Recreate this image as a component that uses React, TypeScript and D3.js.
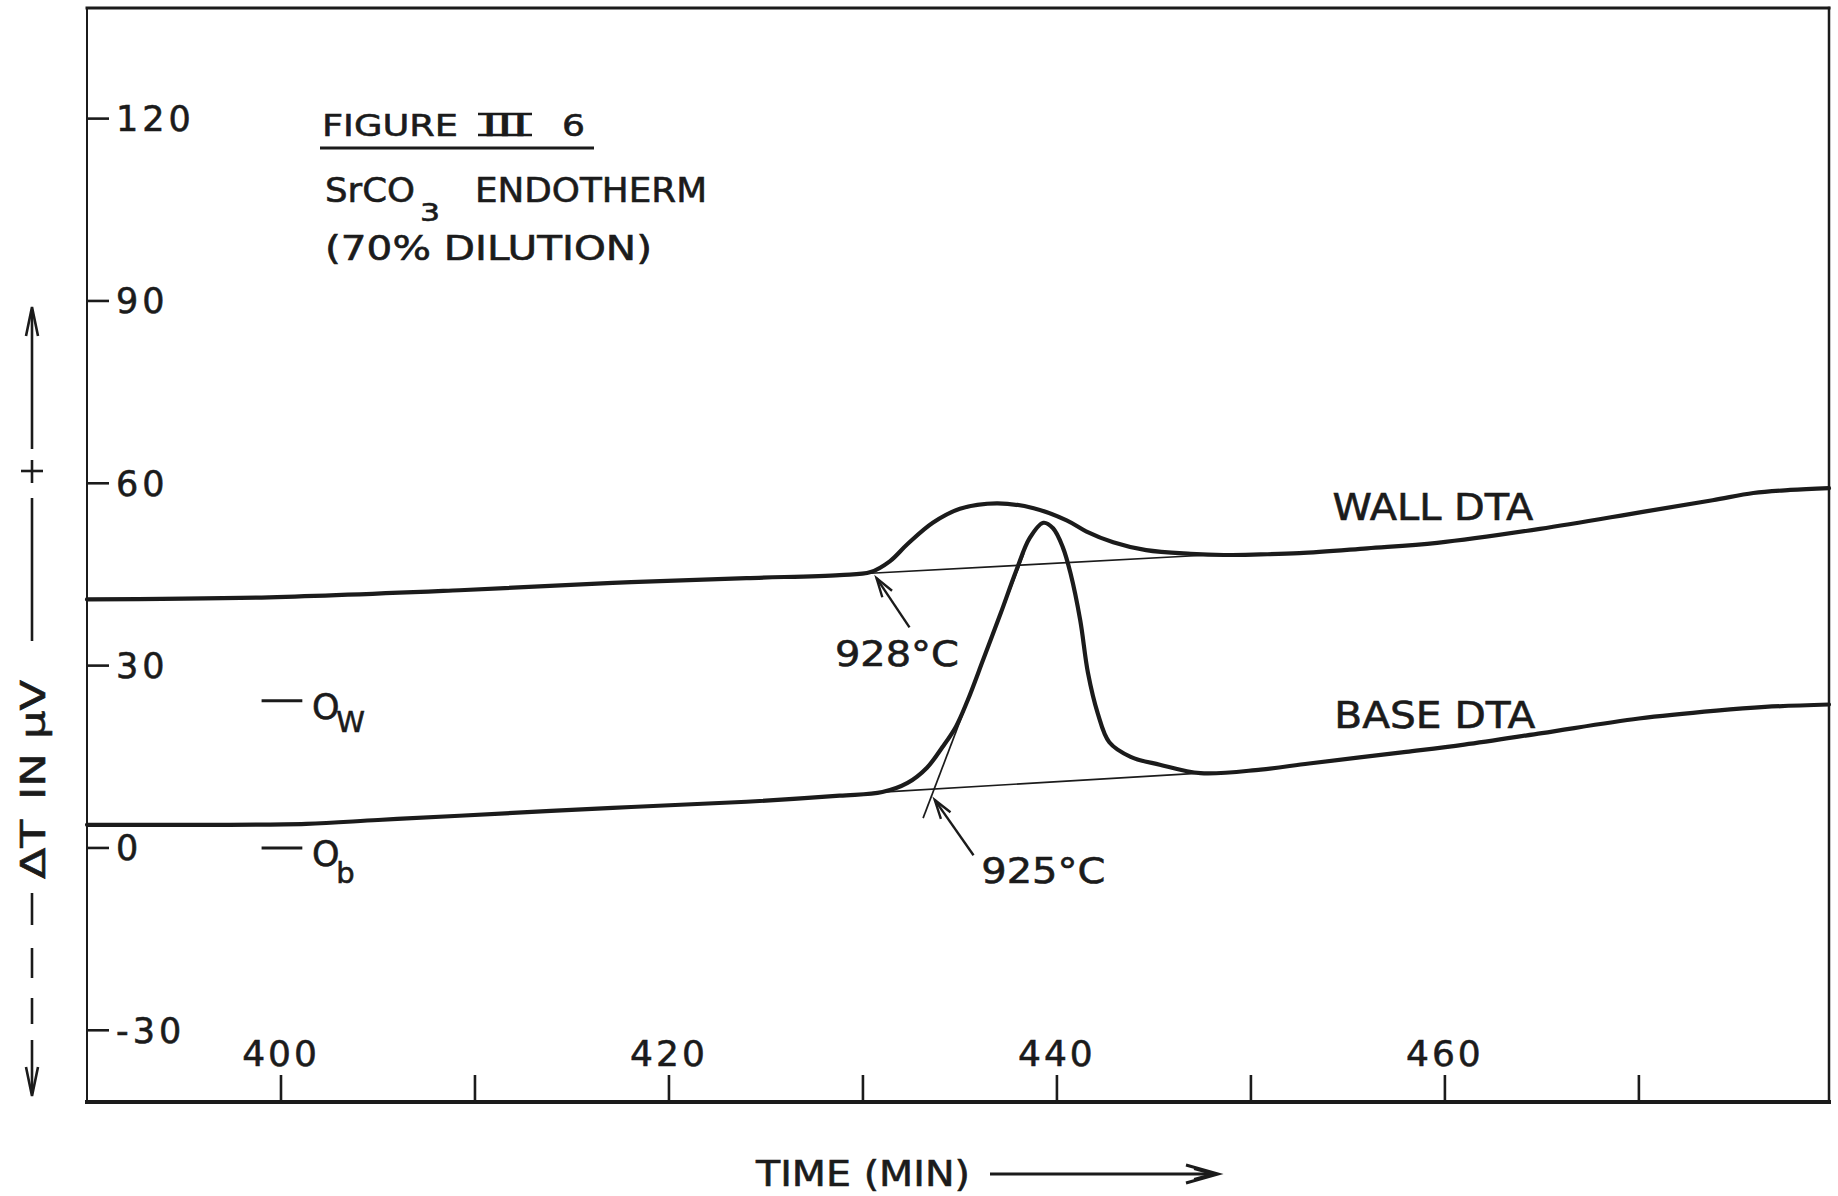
import React from "react";
import * as d3 from "d3";

const W = 1838;
const H = 1196;

// Axes: time in minutes, differential temperature in microvolts
const timeDomain: [number, number] = [390, 479.8];
const deltaDomain: [number, number] = [-41.8, 138.2];
const timeTicks = [400, 410, 420, 430, 440, 450, 460, 470];
const timeLabels = [400, 420, 440, 460];
const deltaTicks = [120, 90, 60, 30, 0, -30];

// Wall thermocouple DTA trace [time (min), ΔT (μV)]
const wallDTA: [number, number][] = [
  [390.0, 40.9], [399.0, 41.2], [409.2, 42.4], [417.1, 43.6], [424.0, 44.4],
  [428.8, 44.9], [430.4, 45.4], [431.4, 47.2], [432.3, 50.0], [433.6, 53.5],
  [435.0, 55.8], [436.9, 56.7], [438.8, 55.9], [440.5, 53.9], [441.5, 52.1],
  [442.9, 50.3], [444.6, 49.0], [446.9, 48.4], [448.6, 48.2], [450.5, 48.3],
  [452.5, 48.5], [456.0, 49.3], [459.6, 50.2], [464.9, 52.5], [470.2, 55.3],
  [473.8, 57.2], [475.9, 58.4], [477.8, 58.9], [479.8, 59.2],
];

// Base thermocouple DTA trace [time (min), ΔT (μV)]
const baseDTA: [number, number][] = [
  [390.0, 3.8], [396.0, 3.8], [401.3, 3.95], [405.0, 4.6], [409.2, 5.3],
  [417.1, 6.6], [424.0, 7.6], [428.8, 8.6], [431.0, 9.2], [432.3, 10.7],
  [433.3, 13.2], [434.1, 16.6], [434.8, 20.0], [435.4, 24.3], [436.2, 31.0],
  [437.1, 38.6], [437.9, 45.6], [438.6, 51.0], [439.3, 53.5], [439.8, 52.6],
  [440.3, 49.5], [440.7, 45.2], [441.2, 37.5], [441.6, 28.8], [442.1, 22.2],
  [442.7, 17.4], [443.8, 15.0], [445.3, 13.7], [447.4, 12.3], [450.5, 12.9],
  [453.0, 13.9], [458.0, 15.8], [461.0, 17.0], [465.0, 18.9], [470.0, 21.3],
  [474.0, 22.6], [476.5, 23.2], [479.8, 23.6],
];

// Construction lines: extrapolated baselines and leading-edge tangent
const wallBaseline: [number, number][] = [[430.4, 45.2], [447.8, 48.2]];
const baseBaseline: [number, number][] = [[431.0, 9.2], [447.4, 12.3]];
const baseTangent: [number, number][] = [[433.1, 4.9], [438.3, 48.5]];

// Onset temperature callouts
const onsetText = ["928°C", "925°C"];
const onsetTail: [number, number][] = [[432.4, 36.3], [435.7, -1.2]];
const onsetTip: [number, number][] = [[430.7, 44.4], [433.7, 7.9]];
const onsetAnchor: [number, number][] = [[431.75, 29.9], [439.3, -5.8]];

// Curve names and where they are lettered
const traceNames = ["WALL DTA", "BASE DTA"];
const traceNameAnchor: [number, number][] = [[454.2, 53.9], [454.3, 19.7]];

// Zero references of the two traces
const zeroSubs = ["W", "b"];
const zeroLevels = [24.2, 0];

const INK = "#1b1b1b";
const FONT = "'DejaVu Sans', 'Liberation Sans', sans-serif";

const x = d3.scaleLinear().domain(timeDomain).range([87, 1829]);
const y = d3.scaleLinear().domain(deltaDomain).range([1102, 8]);

const trace = d3
  .line<[number, number]>()
  .x((d) => x(d[0]))
  .y((d) => y(d[1]))
  .curve(d3.curveCatmullRom.alpha(0.5));

const straight = d3
  .line<[number, number]>()
  .x((d) => x(d[0]))
  .y((d) => y(d[1]));

function arrowHead(tip: [number, number], tail: [number, number], len: number, spread: number) {
  const dx = tail[0] - tip[0];
  const dy = tail[1] - tip[1];
  const n = Math.hypot(dx, dy);
  const ux = dx / n;
  const uy = dy / n;
  const a = (spread * Math.PI) / 180;
  const rot = (s: number) => [
    tip[0] + len * (ux * Math.cos(s) - uy * Math.sin(s)),
    tip[1] + len * (ux * Math.sin(s) + uy * Math.cos(s)),
  ];
  const p1 = rot(a);
  const p2 = rot(-a);
  return `M${p1[0]},${p1[1]}L${tip[0]},${tip[1]}L${p2[0]},${p2[1]}`;
}

// lettering is drawn slightly heavier than the font's book weight
const ink = { fill: INK, stroke: INK, strokeWidth: 0.6 };

export default function App() {
  const [x0, x1] = x.range();
  const [yb, yt] = y.range();

  return (
    <svg
      width={W}
      height={H}
      viewBox={`0 0 ${W} ${H}`}
      style={{ position: "absolute", left: 0, top: 0, display: "block", background: "#ffffff" }}
      fontFamily={FONT}
      fill={INK}
    >
      <rect x={0} y={0} width={W} height={H} fill="#ffffff" />

      {/* frame */}
      <g stroke={INK} strokeLinecap="square">
        <line x1={x0} y1={yt} x2={x1} y2={yt} strokeWidth={3} />
        <line x1={x1} y1={yt} x2={x1} y2={yb} strokeWidth={2.5} />
        <line x1={x0} y1={yb} x2={x1} y2={yb} strokeWidth={4} />
        <line x1={x0} y1={yt} x2={x0} y2={yb} strokeWidth={2} />
      </g>

      {/* ΔT ticks and labels */}
      <g>
        {deltaTicks.map((v) => (
          <g key={v}>
            <line x1={x0} x2={x0 + 22} y1={y(v)} y2={y(v)} stroke={INK} strokeWidth={2.6} />
            <text x={x0 + 29} y={y(v) + 12.5} fontSize={35} letterSpacing={4} {...ink}>
              {String(v)}
            </text>
          </g>
        ))}
      </g>

      {/* time ticks and labels */}
      <g>
        {timeTicks.map((t) => (
          <line key={t} x1={x(t)} x2={x(t)} y1={yb} y2={yb - 27} stroke={INK} strokeWidth={2.6} />
        ))}
        {timeLabels.map((t) => (
          <text key={t} x={x(t)} y={1066} fontSize={36} letterSpacing={3} textAnchor="middle" {...ink}>
            {String(t)}
          </text>
        ))}
      </g>

      {/* construction lines */}
      <g fill="none" stroke={INK} strokeWidth={1.7}>
        <path d={straight(wallBaseline) || ""} />
        <path d={straight(baseBaseline) || ""} />
        <path d={straight(baseTangent) || ""} />
      </g>

      {/* traces */}
      <g fill="none" stroke={INK} strokeWidth={4.2} strokeLinejoin="round" strokeLinecap="round">
        <path d={trace(wallDTA) || ""} />
        <path d={trace(baseDTA) || ""} />
      </g>

      {/* onset callouts */}
      {onsetText.map((label, i) => {
        const tip: [number, number] = [x(onsetTip[i][0]), y(onsetTip[i][1])];
        const tail: [number, number] = [x(onsetTail[i][0]), y(onsetTail[i][1])];
        return (
          <g key={label}>
            <line x1={tail[0]} y1={tail[1]} x2={tip[0]} y2={tip[1]} stroke={INK} strokeWidth={2.4} />
            <path d={arrowHead(tip, tail, 20, 17)} fill="none" stroke={INK} strokeWidth={2.4} />
            <text
              x={x(onsetAnchor[i][0])}
              y={y(onsetAnchor[i][1])}
              fontSize={35}
              textAnchor="middle"
              textLength={124}
              lengthAdjust="spacingAndGlyphs"
              {...ink}
            >
              {label}
            </text>
          </g>
        );
      })}

      {/* trace names */}
      {traceNames.map((name, i) => (
        <text
          key={name}
          x={x(traceNameAnchor[i][0])}
          y={y(traceNameAnchor[i][1])}
          fontSize={37}
          textLength={201}
          lengthAdjust="spacingAndGlyphs"
          {...ink}
        >
          {name}
        </text>
      ))}

      {/* zero references */}
      {zeroLevels.map((v, i) => (
        <g key={zeroSubs[i]}>
          <line x1={x(399.0)} x2={x(401.1)} y1={y(v)} y2={y(v)} stroke={INK} strokeWidth={3} />
          <text x={x(401.6)} y={y(v) + 18} fontSize={35} {...ink}>
            O
          </text>
          <text x={x(402.85)} y={y(v) + (zeroSubs[i] === "W" ? 31 : 35)} fontSize={29} {...ink}>
            {zeroSubs[i]}
          </text>
        </g>
      ))}

      {/* figure heading */}
      <g {...ink}>
        <text x={322} y={136} fontSize={31} textLength={136} lengthAdjust="spacingAndGlyphs">
          FIGURE
        </text>
        <text x={482} y={136} fontSize={31} textLength={46} lengthAdjust="spacingAndGlyphs">
          III
        </text>
        <line x1={478} x2={532} y1={114} y2={114} stroke={INK} strokeWidth={2.6} />
        <line x1={478} x2={532} y1={135} y2={135} stroke={INK} strokeWidth={2.6} />
        <text x={562} y={136} fontSize={31} textLength={23} lengthAdjust="spacingAndGlyphs">
          6
        </text>
        <line x1={320} x2={594} y1={148} y2={148} stroke={INK} strokeWidth={3} />

        <text x={325} y={202} fontSize={33} textLength={90} lengthAdjust="spacingAndGlyphs">
          SrCO
        </text>
        <text x={420} y={221} fontSize={25} textLength={20} lengthAdjust="spacingAndGlyphs">
          3
        </text>
        <text x={475} y={202} fontSize={33} textLength={232} lengthAdjust="spacingAndGlyphs">
          ENDOTHERM
        </text>
        <text x={325} y={260} fontSize={33} textLength={327} lengthAdjust="spacingAndGlyphs">
          (70% DILUTION)
        </text>
      </g>

      {/* time axis title */}
      <g>
        <text x={756} y={1186} fontSize={35} textLength={214} lengthAdjust="spacingAndGlyphs" {...ink}>
          TIME (MIN)
        </text>
        <line x1={990} x2={1214} y1={1174} y2={1174} stroke={INK} strokeWidth={3} />
        <path d="M1186,1165L1218,1174L1186,1183" fill="none" stroke={INK} strokeWidth={3} />
        <path d="M1194,1169L1212,1174L1194,1179" fill="none" stroke={INK} strokeWidth={2} />
      </g>

      {/* ΔT axis title */}
      <g stroke={INK} strokeWidth={2.6} fill="none">
        <line x1={32} x2={32} y1={449} y2={310} />
        <path d="M26,336L32,307L38,336" />
        <line x1={21} x2={43} y1={471} y2={471} />
        <line x1={32} x2={32} y1={460} y2={483} />
        <line x1={32} x2={32} y1={498} y2={641} />
        <line x1={32} x2={32} y1={893} y2={925} />
        <line x1={32} x2={32} y1={948} y2={978} />
        <line x1={32} x2={32} y1={998} y2={1024} />
        <line x1={32} x2={32} y1={1040} y2={1093} />
        <path d="M26,1067L32,1096L38,1067" />
      </g>
      <g transform="translate(45,879) rotate(-90)">
        <text x={0} y={0} fontSize={33} textLength={59} lengthAdjust="spacingAndGlyphs" {...ink}>
          ΔT
        </text>
      </g>
      <g transform="translate(45,800) rotate(-90)">
        <text x={0} y={0} fontSize={33} textLength={120} lengthAdjust="spacingAndGlyphs" {...ink}>
          IN μV
        </text>
      </g>
    </svg>
  );
}
